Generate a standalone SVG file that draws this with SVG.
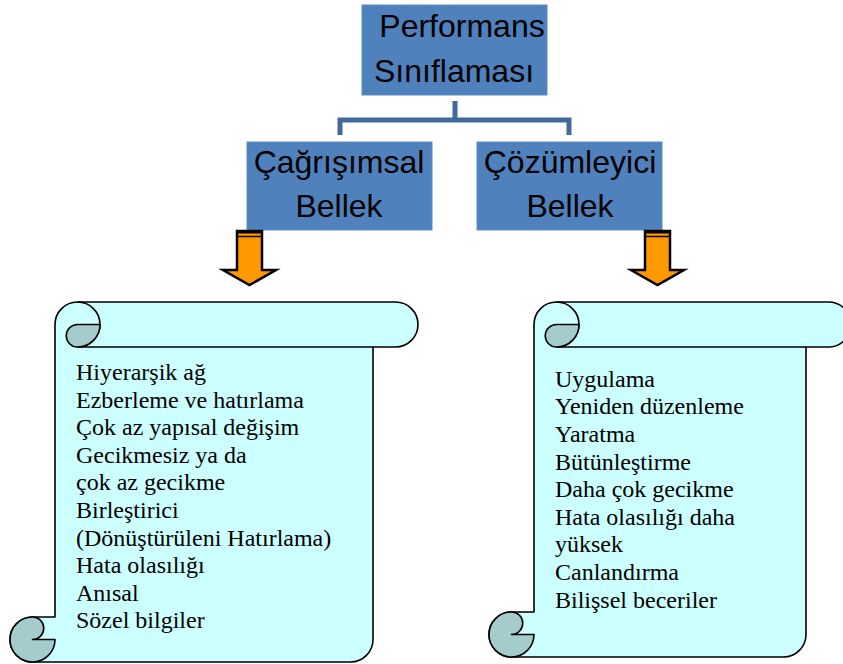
<svg xmlns="http://www.w3.org/2000/svg" width="843" height="664" viewBox="0 0 843 664">
  <style>
    .box { fill: #4f81bd; stroke: #5a8bc4; stroke-width: 1; }
    .boxText { font-family: "Liberation Sans", Arial, sans-serif; font-size: 32px; fill: #000; text-anchor: middle; }
    .link { fill: none; stroke: #41699c; stroke-width: 5; }
    .arrow { fill: #ff9900; stroke: #000; stroke-width: 2.5; stroke-linejoin: miter; }
    .scroll { fill: #ccffff; stroke: #000; stroke-width: 1.6; stroke-linejoin: round; }
    .curl { fill: #a5cccc; stroke: #000; stroke-width: 1.6; stroke-linejoin: round; }
    .line { fill: none; stroke: #000; stroke-width: 1.6; }
    .item { font-family: "Liberation Serif", "Times New Roman", serif; font-size: 24px; fill: #000; }
  </style>

  <rect width="843" height="664" fill="#ffffff"/>

  <!-- bracket connecting the top box to the two memory boxes -->
  <g id="connectors">
    <path class="link" d="M455 101 V120 M340 135 V120 H569 V135"/>
  </g>

  <g id="performans">
    <rect class="box" x="362" y="5" width="185" height="90"/>
    <text class="boxText" x="462" y="37">Performans</text>
    <text class="boxText" x="454" y="82">Sınıflaması</text>
  </g>

  <g id="cagrisimsal">
    <rect class="box" x="247" y="142" width="185" height="88"/>
    <text class="boxText" x="339" y="173">Çağrışımsal</text>
    <text class="boxText" x="339" y="217">Bellek</text>
  </g>

  <g id="cozumleyici">
    <rect class="box" x="477" y="142" width="185" height="88"/>
    <text class="boxText" x="570" y="173">Çözümleyici</text>
    <text class="boxText" x="570" y="217">Bellek</text>
  </g>

  <!-- striped down arrows -->
  <g id="arrow-left">
    <path class="arrow" d="M237 231 H262 V270 H276 L249.5 285 L223 270 H237 Z"/>
    <rect x="237" y="230" width="25" height="3.5" fill="#000"/>
    <line x1="237" y1="236.5" x2="262" y2="236.5" stroke="#000" stroke-width="1.5"/>
  </g>

  <g id="arrow-right">
    <path class="arrow" d="M645 231 H670 V270 H684 L657.5 285 L631 270 H645 Z"/>
    <rect x="645" y="230" width="25" height="3.5" fill="#000"/>
    <line x1="645" y1="236.5" x2="670" y2="236.5" stroke="#000" stroke-width="1.5"/>
  </g>

  <!-- left scroll: body x 55..373, roll diameter 45 -->
  <g id="scroll-left">
    <path class="scroll" d="M55 324.5 A22.5 22.5 0 0 1 77.5 302 H395.5 A22.5 22.5 0 0 1 395.5 347 H373 V639.5 A22.5 22.5 0 0 1 350.5 662 H32.5 A22.5 22.5 0 0 1 32.5 617 H55 Z"/>
    <path class="line" d="M77.5 302 A22.5 22.5 0 0 1 77.5 347 H373"/>
    <path class="curl" d="M77.5 324.5 H100 A22.5 22.5 0 0 1 77.5 347 A11.25 11.25 0 0 1 77.5 324.5 Z"/>
    <path class="curl" d="M32.5 662 A22.5 22.5 0 0 1 32.5 617 A11.25 11.25 0 0 1 32.5 639.5 H55 A22.5 22.5 0 0 1 32.5 662 Z"/>
    <text class="item" x="76" y="380">Hiyerarşik ağ</text>
    <text class="item" x="76" y="407.6">Ezberleme ve hatırlama</text>
    <text class="item" x="76" y="435.2">Çok az yapısal değişim</text>
    <text class="item" x="76" y="462.8">Gecikmesiz ya da</text>
    <text class="item" x="76" y="490.4">çok az gecikme</text>
    <text class="item" x="76" y="518">Birleştirici</text>
    <text class="item" x="76" y="545.6">(Dönüştürüleni Hatırlama)</text>
    <text class="item" x="76" y="573.2">Hata olasılığı</text>
    <text class="item" x="76" y="600.8">Anısal</text>
    <text class="item" x="76" y="628.4">Sözel bilgiler</text>
  </g>

  <!-- right scroll: body x 534..806, runs past the right edge -->
  <g id="scroll-right">
    <path class="scroll" d="M534 324.5 A22.5 22.5 0 0 1 556.5 302 H828.5 A22.5 22.5 0 0 1 828.5 347 H806 V634.5 A22.5 22.5 0 0 1 783.5 657 H511.5 A22.5 22.5 0 0 1 511.5 612 H534 Z"/>
    <path class="line" d="M556.5 302 A22.5 22.5 0 0 1 556.5 347 H806"/>
    <path class="curl" d="M556.5 324.5 H579 A22.5 22.5 0 0 1 556.5 347 A11.25 11.25 0 0 1 556.5 324.5 Z"/>
    <path class="curl" d="M511.5 657 A22.5 22.5 0 0 1 511.5 612 A11.25 11.25 0 0 1 511.5 634.5 H534 A22.5 22.5 0 0 1 511.5 657 Z"/>
    <text class="item" x="555" y="386.7">Uygulama</text>
    <text class="item" x="555" y="414.3">Yeniden düzenleme</text>
    <text class="item" x="555" y="441.9">Yaratma</text>
    <text class="item" x="555" y="469.5">Bütünleştirme</text>
    <text class="item" x="555" y="497.1">Daha çok gecikme</text>
    <text class="item" x="555" y="524.7">Hata olasılığı daha</text>
    <text class="item" x="555" y="552.3">yüksek</text>
    <text class="item" x="555" y="579.9">Canlandırma</text>
    <text class="item" x="555" y="607.5">Bilişsel beceriler</text>
  </g>
</svg>
